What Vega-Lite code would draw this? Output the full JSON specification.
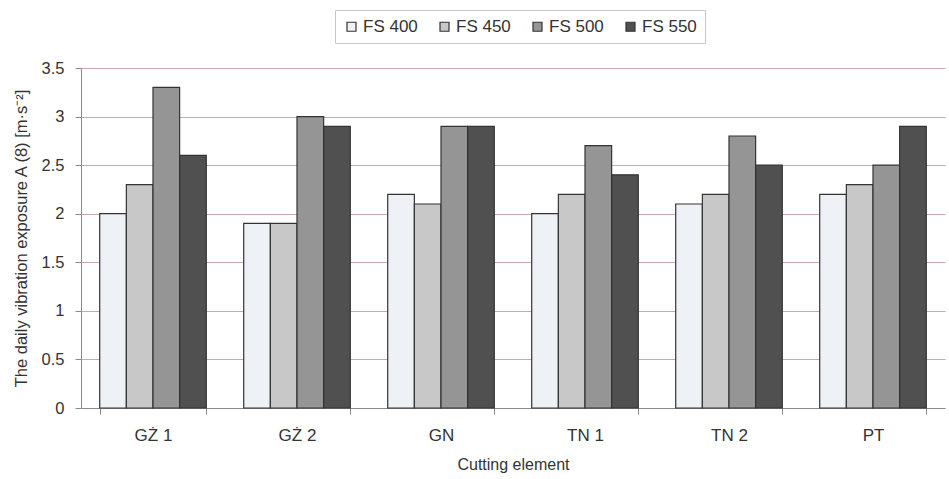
{
  "$schema": "https://vega.github.io/schema/vega-lite/v6.json",
  "autosize": "none",
  "width": 864,
  "height": 340,
  "padding": {"left": 81, "top": 68, "right": 4, "bottom": 71},
  "background": "#ffffff",
  "config": {"view": {"stroke": null}, "font": "Liberation Sans"},
  "data": {
    "values": [
      {"element": "GŻ 1", "series": "FS 400", "value": 2.0},
      {"element": "GŻ 1", "series": "FS 450", "value": 2.3},
      {"element": "GŻ 1", "series": "FS 500", "value": 3.3},
      {"element": "GŻ 1", "series": "FS 550", "value": 2.6},
      {"element": "GŻ 2", "series": "FS 400", "value": 1.9},
      {"element": "GŻ 2", "series": "FS 450", "value": 1.9},
      {"element": "GŻ 2", "series": "FS 500", "value": 3.0},
      {"element": "GŻ 2", "series": "FS 550", "value": 2.9},
      {"element": "GN", "series": "FS 400", "value": 2.2},
      {"element": "GN", "series": "FS 450", "value": 2.1},
      {"element": "GN", "series": "FS 500", "value": 2.9},
      {"element": "GN", "series": "FS 550", "value": 2.9},
      {"element": "TN 1", "series": "FS 400", "value": 2.0},
      {"element": "TN 1", "series": "FS 450", "value": 2.2},
      {"element": "TN 1", "series": "FS 500", "value": 2.7},
      {"element": "TN 1", "series": "FS 550", "value": 2.4},
      {"element": "TN 2", "series": "FS 400", "value": 2.1},
      {"element": "TN 2", "series": "FS 450", "value": 2.2},
      {"element": "TN 2", "series": "FS 500", "value": 2.8},
      {"element": "TN 2", "series": "FS 550", "value": 2.5},
      {"element": "PT", "series": "FS 400", "value": 2.2},
      {"element": "PT", "series": "FS 450", "value": 2.3},
      {"element": "PT", "series": "FS 500", "value": 2.5},
      {"element": "PT", "series": "FS 550", "value": 2.9}
    ]
  },
  "mark": {"type": "bar", "stroke": "#333333", "strokeWidth": 1.2},
  "encoding": {
    "x": {
      "field": "element",
      "type": "nominal",
      "sort": null,
      "scale": {"paddingInner": 0.26, "paddingOuter": 0.13},
      "axis": {
        "title": "Cutting element",
        "titleFontSize": 16,
        "titleFontWeight": "normal",
        "titleColor": "#333333",
        "titlePadding": 13,
        "labelAngle": 0,
        "labelFontSize": 17,
        "labelColor": "#333333",
        "labelPadding": 13,
        "domainColor": "#8a8a8a",
        "tickColor": "#8a8a8a",
        "tickBand": "extent",
        "tickSize": 6
      }
    },
    "xOffset": {"field": "series", "type": "nominal", "scale": {"paddingInner": 0, "paddingOuter": 0}},
    "y": {
      "field": "value",
      "type": "quantitative",
      "scale": {"domain": [0, 3.5]},
      "axis": {
        "title": "The daily vibration exposure A (8) [m·s⁻²]",
        "titleFontSize": 16.5,
        "titleFontWeight": "normal",
        "titleColor": "#333333",
        "titlePadding": 12,
        "values": [0, 0.5, 1, 1.5, 2, 2.5, 3, 3.5],
        "format": ".1~f",
        "labelFontSize": 16.5,
        "labelColor": "#333333",
        "labelPadding": 11,
        "domainColor": "#8a8a8a",
        "tickColor": "#8a8a8a",
        "tickSize": 6,
        "grid": true,
        "gridColor": "#c9aaa6",
        "gridWidth": 1
      }
    },
    "fill": {
      "field": "series",
      "type": "nominal",
      "scale": {
        "domain": ["FS 400", "FS 450", "FS 500", "FS 550"],
        "range": ["#eef2f6", "#c8c8c8", "#959595", "#505050"]
      },
      "legend": {
        "title": null,
        "orient": "none",
        "direction": "horizontal",
        "legendX": 254,
        "legendY": -58,
        "symbolType": "square",
        "symbolSize": 81,
        "symbolStrokeColor": "#333333",
        "symbolStrokeWidth": 1.2,
        "labelFontSize": 17,
        "labelColor": "#333333",
        "labelOffset": 3,
        "columnPadding": 18,
        "padding": 8,
        "strokeColor": "#c8c8c8",
        "fillColor": "#ffffff"
      }
    }
  }
}
